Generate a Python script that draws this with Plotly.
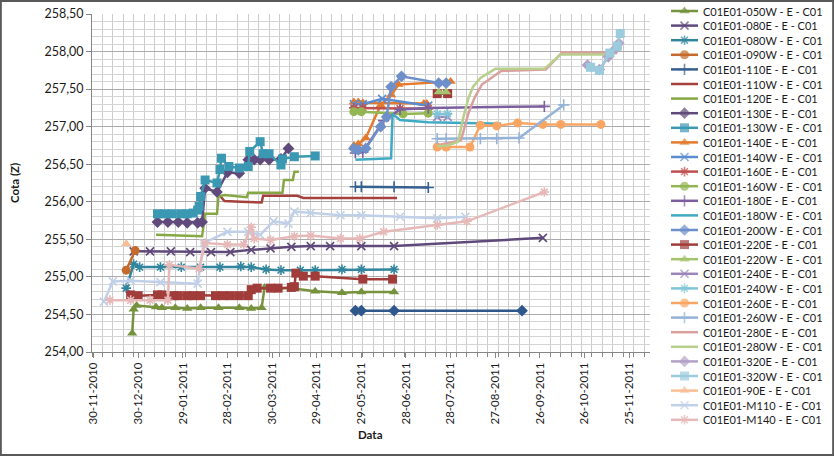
import plotly.graph_objects as go

# ---- data ----
d050W = ["2010-12-26", "2010-12-27", "2010-12-29", "2011-01-11", "2011-01-15", "2011-01-24", "2011-02-01",
         "2011-02-10", "2011-02-22", "2011-03-08", "2011-03-16", "2011-03-23", "2011-03-25", "2011-04-03",
         "2011-04-12", "2011-04-28", "2011-05-16", "2011-05-29", "2011-06-20"]
v050W = [254.25, 254.57, 254.62, 254.60, 254.59, 254.59, 254.58, 254.59, 254.59, 254.59, 254.58, 254.59,
         254.86, 254.85, 254.85, 254.81, 254.79, 254.80, 254.80]

d080E = ["2010-12-27", "2011-01-07", "2011-01-21", "2011-02-03", "2011-02-17", "2011-03-02", "2011-03-16",
         "2011-03-29", "2011-04-12", "2011-04-25", "2011-05-08", "2011-05-29", "2011-06-20", "2011-09-28"]
v080E = [255.34, 255.34, 255.34, 255.33, 255.33, 255.33, 255.36, 255.38, 255.40, 255.41, 255.41, 255.41,
         255.41, 255.52]

d080W = ["2010-12-22", "2010-12-27", "2010-12-31", "2011-01-14", "2011-01-28", "2011-02-10", "2011-02-23",
         "2011-03-09", "2011-03-16", "2011-03-26", "2011-04-05", "2011-04-18", "2011-04-28", "2011-05-16",
         "2011-05-29", "2011-06-20"]
v080W = [254.85, 255.17, 255.13, 255.13, 255.13, 255.13, 255.13, 255.14, 255.13, 255.10, 255.09, 255.09,
         255.09, 255.10, 255.10, 255.10]

d090W = ["2010-12-22", "2010-12-28"]
v090W = [255.09, 255.35]

d110E = ["2011-05-25", "2011-05-29", "2011-06-20", "2011-07-13"]
v110E = [256.20, 256.20, 256.20, 256.19]

d110W = ["2011-02-23", "2011-02-26", "2011-03-09", "2011-03-23", "2011-03-24", "2011-04-05", "2011-04-16",
         "2011-04-20", "2011-05-08", "2011-05-29", "2011-06-22"]
v110W = [256.08, 256.01, 256.00, 255.99, 256.08, 256.08, 256.08, 256.05, 256.05, 256.05, 256.05]

d120E = ["2011-01-11", "2011-02-09", "2011-02-11", "2011-02-13", "2011-02-21", "2011-02-22", "2011-02-26",
         "2011-03-13", "2011-03-14", "2011-04-06", "2011-04-07", "2011-04-13", "2011-04-14", "2011-04-17"]
v120E = [255.56, 255.54, 255.54, 255.84, 255.84, 256.07, 256.09, 256.06, 256.12, 256.12, 256.29, 256.29,
         256.40, 256.40]

d130E = ["2011-01-12", "2011-01-19", "2011-01-26", "2011-02-01", "2011-02-08", "2011-02-11", "2011-02-13",
         "2011-02-21", "2011-02-28", "2011-03-08", "2011-03-14", "2011-03-18", "2011-03-22", "2011-03-28",
         "2011-04-05", "2011-04-10"]
v130E = [255.73, 255.73, 255.73, 255.72, 255.72, 255.73, 256.18, 256.13, 256.39, 256.38, 256.56, 256.56,
         256.56, 256.56, 256.57, 256.71]

d130W = ["2011-01-12", "2011-01-17", "2011-01-22", "2011-01-28", "2011-02-01", "2011-02-05", "2011-02-08",
         "2011-02-09", "2011-02-10", "2011-02-13", "2011-02-21", "2011-02-23", "2011-02-24", "2011-03-01",
         "2011-03-08", "2011-03-14", "2011-03-15", "2011-03-22", "2011-03-24", "2011-03-28", "2011-04-05",
         "2011-04-06", "2011-04-14", "2011-04-28"]
v130W = [255.84, 255.84, 255.84, 255.84, 255.84, 255.85, 255.89, 255.94, 256.07, 256.29, 256.25, 256.43,
         256.58, 256.47, 256.45, 256.47, 256.67, 256.80, 256.64, 256.64, 256.49, 256.57, 256.60, 256.61]

d140E = ["2011-05-24", "2011-05-27", "2011-05-30", "2011-07-10", "2011-07-12"]
v140E = [257.33, 257.33, 257.32, 257.31, 257.31]
d140E_b = ["2011-05-24", "2011-05-27", "2011-06-01", "2011-06-11", "2011-06-18", "2011-06-23", "2011-07-28"]
v140E_b = [256.75, 256.77, 256.85, 257.29, 257.42, 257.56, 257.60]

d140W = ["2011-05-24", "2011-05-30", "2011-06-12", "2011-07-13"]
v140W = [257.30, 257.30, 257.37, 257.28]

d160E = ["2011-05-24", "2011-05-30", "2011-06-24", "2011-07-13"]
v160E = [257.25, 257.25, 257.24, 257.24]

d160W = ["2011-05-24", "2011-05-29", "2011-06-26", "2011-07-13"]
v160W = [257.20, 257.20, 257.17, 257.18]

d180E = ["2011-05-25", "2011-05-30", "2011-06-13", "2011-06-24", "2011-07-13", "2011-09-29"]
v180E = [256.65, 256.66, 257.08, 257.23, 257.25, 257.27]

d180W = ["2011-05-25", "2011-06-16", "2011-06-18", "2011-06-19", "2011-06-24", "2011-07-13", "2011-08-10",
         "2011-08-31"]
v180W = [256.56, 256.58, 256.58, 257.17, 257.09, 257.06, 257.05, 257.04]

d200W = ["2011-05-24", "2011-05-27", "2011-06-01", "2011-06-11", "2011-06-15", "2011-06-18", "2011-06-25",
         "2011-07-20", "2011-07-25"]
v200W = [256.71, 256.69, 256.71, 257.00, 257.13, 257.53, 257.67, 257.58, 257.58]
d200W_b = ["2011-05-25", "2011-05-29", "2011-06-20", "2011-09-14"]
v200W_b = [254.55, 254.55, 254.55, 254.55]

d220E = ["2010-12-25", "2010-12-30", "2011-01-12", "2011-01-15", "2011-01-23", "2011-01-26", "2011-02-01",
         "2011-02-05", "2011-02-10", "2011-02-20", "2011-02-25", "2011-03-02", "2011-03-08", "2011-03-14",
         "2011-03-16", "2011-03-20", "2011-03-29", "2011-04-03", "2011-04-12", "2011-04-14", "2011-04-15",
         "2011-04-20", "2011-04-28", "2011-05-30", "2011-06-19"]
v220E = [254.76, 254.75, 254.76, 254.76, 254.75, 254.75, 254.75, 254.75, 254.75, 254.75, 254.75, 254.75,
         254.75, 254.75, 254.83, 254.85, 254.85, 254.85, 254.86, 254.87, 255.05, 255.01, 255.01, 254.97, 254.97]
d220E_b = ["2011-07-19", "2011-07-26"]
v220E_b = [257.44, 257.44]

d220W = ["2011-07-20", "2011-07-25"]
v220W = [257.46, 257.46]

d240E = ["2011-07-19", "2011-07-26"]
v240E = [257.13, 257.13]

d240W = ["2011-07-19", "2011-07-26"]
v240W = [257.17, 257.17]

d260E = ["2011-07-19", "2011-07-25", "2011-08-10", "2011-08-17", "2011-08-28", "2011-09-11", "2011-09-28",
         "2011-10-10", "2011-11-06"]
v260E = [256.73, 256.73, 256.73, 257.02, 257.01, 257.05, 257.03, 257.03, 257.03]

d260W = ["2011-07-19", "2011-07-25", "2011-08-17", "2011-08-28", "2011-09-12", "2011-10-12"]
v260W = [256.84, 256.84, 256.84, 256.84, 256.85, 257.29]

d280E = ["2011-07-21", "2011-08-04", "2011-08-09", "2011-08-13", "2011-08-18", "2011-08-31", "2011-09-30",
         "2011-10-11", "2011-11-17"]
v280E = [256.76, 256.82, 257.18, 257.38, 257.56, 257.74, 257.76, 257.99, 257.98]

d280W = ["2011-07-19", "2011-07-26", "2011-08-02", "2011-08-06", "2011-08-09", "2011-08-12", "2011-08-17",
         "2011-08-27", "2011-09-29", "2011-10-10", "2011-11-15"]
v280W = [256.74, 256.75, 256.80, 257.16, 257.38, 257.53, 257.65, 257.77, 257.77, 257.96, 257.96]

d320E = ["2011-10-28", "2011-11-05", "2011-11-11", "2011-11-16", "2011-11-18"]
v320E = [257.82, 257.76, 257.93, 258.04, 258.11]

d320W = ["2011-10-30", "2011-11-05", "2011-11-12", "2011-11-17", "2011-11-19"]
v320W = [257.79, 257.75, 257.98, 258.07, 258.24]

d90E = ["2010-12-22"]
v90E = [255.44]

dM110 = ["2010-12-07", "2010-12-13", "2010-12-25", "2011-01-14", "2011-02-08", "2011-02-12", "2011-02-28",
         "2011-03-14", "2011-03-22", "2011-03-31", "2011-04-10", "2011-04-14", "2011-04-25", "2011-05-15",
         "2011-05-29", "2011-06-24", "2011-07-19", "2011-08-07"]
vM110 = [254.67, 254.94, 254.95, 254.93, 254.91, 255.45, 255.60, 255.60, 255.56, 255.74, 255.71, 255.87,
         255.85, 255.82, 255.82, 255.80, 255.78, 255.80]

dM140 = ["2010-12-11", "2010-12-25", "2011-01-07", "2011-01-19", "2011-01-20", "2011-02-09", "2011-02-13",
         "2011-02-28", "2011-03-11", "2011-03-16", "2011-03-18", "2011-03-29", "2011-04-14", "2011-04-25",
         "2011-05-15", "2011-05-28", "2011-06-13", "2011-07-19", "2011-08-08", "2011-09-29"]
vM140 = [254.69, 254.69, 254.69, 254.69, 255.16, 255.11, 255.45, 255.43, 255.43, 255.66, 255.51, 255.49,
         255.54, 255.55, 255.51, 255.51, 255.60, 255.69, 255.74, 256.13]

# name, dates, values, colour, marker symbol (None = line only)
series = [
    ("C01E01-050W - E - C01", d050W, v050W, "#76923C", "triangle-up"),
    ("C01E01-080E - E - C01", d080E, v080E, "#5F497A", "x-thin"),
    ("C01E01-080W - E - C01", d080W, v080W, "#31859C", "asterisk"),
    ("C01E01-090W - E - C01", d090W, v090W, "#C46A2C", "circle"),
    ("C01E01-110E - E - C01", d110E, v110E, "#376092", "cross-thin"),
    ("C01E01-110W - E - C01", d110W, v110W, "#A5403D", None),
    ("C01E01-120E - E - C01", d120E, v120E, "#86A844", None),
    ("C01E01-130E - E - C01", d130E, v130E, "#604A7B", "diamond"),
    ("C01E01-130W - E - C01", d130W, v130W, "#3B98B2", "square"),
    ("C01E01-140E - E - C01", d140E, v140E, "#E37A2C", "triangle-up"),
    ("C01E01-140W - E - C01", d140W, v140W, "#5B8CCF", "x-thin"),
    ("C01E01-160E - E - C01", d160E, v160E, "#C0504D", "asterisk"),
    ("C01E01-160W - E - C01", d160W, v160W, "#93B552", "circle"),
    ("C01E01-180E - E - C01", d180E, v180E, "#7D5FA0", "cross-thin"),
    ("C01E01-180W - E - C01", d180W, v180W, "#3FAAC4", None),
    ("C01E01-200W - E - C01", d200W, v200W, "#6E90CA", "diamond"),
    ("C01E01-220E - E - C01", d220E, v220E, "#A03C3A", "square"),
    ("C01E01-220W - E - C01", d220W, v220W, "#A5C36D", "triangle-up"),
    ("C01E01-240E - E - C01", d240E, v240E, "#9B86BA", "x-thin"),
    ("C01E01-240W - E - C01", d240W, v240W, "#7EC5D8", "asterisk"),
    ("C01E01-260E - E - C01", d260E, v260E, "#F9A664", "circle"),
    ("C01E01-260W - E - C01", d260W, v260W, "#95B3D7", "cross-thin"),
    ("C01E01-280E - E - C01", d280E, v280E, "#D9A09E", None),
    ("C01E01-280W - E - C01", d280W, v280W, "#B8CF8C", None),
    ("C01E01-320E - E - C01", d320E, v320E, "#B3A2C7", "diamond"),
    ("C01E01-320W - E - C01", d320W, v320W, "#9BCBDC", "square"),
    ("C01E01-90E - E - C01", d90E, v90E, "#F9BE95", "triangle-up"),
    ("C01E01-M110 - E - C01", dM110, vM110, "#C0D0E8", "x-thin"),
    ("C01E01-M140 - E - C01", dM140, vM140, "#E6B9B8", "asterisk"),
]

# extra pieces of some series that are not joined to the rest
extras = [
    (9, d140E_b, v140E_b, None),
    (15, d200W_b, v200W_b, "#2E578C"),
    (16, d220E_b, v220E_b, None),
]

THIN = ("x-thin", "asterisk", "cross-thin")


def style(color, symbol):
    if symbol is None:
        return dict(line=dict(color=color, width=2.5), mode="lines", marker=dict(size=0))
    size = 8 if symbol in THIN else 9
    mk = dict(symbol=symbol, size=size, color=color,
              line=dict(color=color, width=1.6 if symbol in THIN else 0))
    return dict(line=dict(color=color, width=2.5), mode="lines+markers", marker=mk)


fig = go.Figure()

drawn = []
for i, (name, d, v, c, s) in enumerate(series):
    drawn.append((d, v, c, s))
    for j, dd, vv, cc in extras:
        if j == i:
            drawn.append((dd, vv, cc or c, s))

for d, v, c, s in drawn:
    st = style(c, s)
    fig.add_trace(go.Scatter(x=d, y=v, mode=st["mode"], line=st["line"], marker=st["marker"],
                             showlegend=False, hoverinfo="skip"))

# hand-built legend (Excel legend rows are tighter than plotly's)
ann = []
for i, (name, d, v, c, s) in enumerate(series):
    yy = 11 + 14.6 * i
    st = style(c, s)
    mk = dict(st["marker"])
    if s is not None:
        mk["size"] = [0, mk["size"], 0]
    fig.add_trace(go.Scatter(x=[671, 684.5, 698], y=[yy, yy, yy], mode=st["mode"], line=st["line"],
                             marker=mk, xaxis="x2", yaxis="y2", showlegend=False, hoverinfo="skip"))
    ann.append(dict(x=701, y=yy, xref="x2", yref="y2", text=name, showarrow=False, xanchor="left",
                    yanchor="middle", font=dict(size=11, color="#1a1a1a")))

ann.append(dict(x=14 / 834, y=1 - 183 / 456, xref="paper", yref="paper", text="<b>Cota (Z)</b>",
                textangle=-90, showarrow=False, xanchor="center", yanchor="middle",
                font=dict(size=11.5, color="#1a1a1a")))
ann.append(dict(x=370 / 834, y=1 - 434 / 456, xref="paper", yref="paper", text="<b>Data</b>",
                showarrow=False, xanchor="center", yanchor="middle",
                font=dict(size=11.5, color="#1a1a1a")))

DAY = 86400000
fig.update_layout(
    width=834, height=456,
    margin=dict(l=0, r=0, t=0, b=0),
    paper_bgcolor="white", plot_bgcolor="rgba(0,0,0,0)",
    template="none",
    showlegend=False,
    separators=",.",
    font=dict(family="Lato, sans-serif", size=12, color="#1a1a1a"),
    annotations=ann,
    xaxis=dict(
        domain=[92 / 834, 650 / 834], type="date",
        range=["2010-11-29", "2011-12-09"],
        tick0="2010-11-30", dtick=30 * DAY, tickformat="%d-%m-%Y", tickangle=-90,
        showgrid=False, zeroline=False, showline=True, linecolor="#868686", linewidth=1,
        ticks="outside", ticklen=5, tickcolor="#868686",
        minor=dict(tick0="2010-11-29", dtick=7 * DAY, showgrid=True, gridcolor="#CCCCCC", gridwidth=1,
                   ticks="outside", ticklen=4, tickcolor="#868686"),
        automargin=False, tickfont=dict(size=11.5),
    ),
    yaxis=dict(
        domain=[1 - 352 / 456, 1 - 14 / 456],
        range=[254, 258.5], dtick=0.5, tick0=254, tickformat=".2f",
        showgrid=True, gridcolor="#ABABAB", gridwidth=1, zeroline=False,
        showline=True, linecolor="#868686", linewidth=1,
        ticks="outside", ticklen=5, tickcolor="#868686",
        minor=dict(dtick=0.1, showgrid=True, gridcolor="#D4D4D4", gridwidth=1),
        automargin=False, tickfont=dict(size=12.5),
    ),
    xaxis2=dict(domain=[0, 1], range=[0, 834], visible=False, anchor="y2", fixedrange=True),
    yaxis2=dict(domain=[0, 1], range=[456, 0], visible=False, anchor="x2", fixedrange=True),
    shapes=[dict(type="rect", xref="paper", yref="paper", x0=0.001, y0=0.002, x1=0.999, y1=0.998,
                 line=dict(color="#595959", width=2))],
)

fig.write_html("out.html", config={"displayModeBar": False},
               post_script="document.body.style.margin='0';")
